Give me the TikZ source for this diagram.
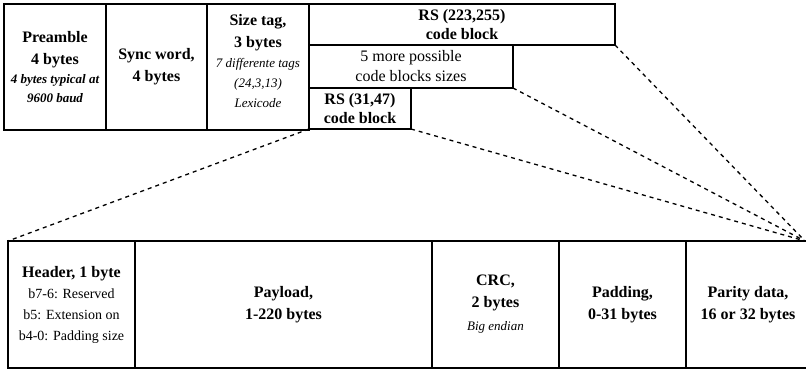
\documentclass[tikz,border=0pt]{standalone}
\usepackage{fontspec}
\setmainfont{Liberation Serif}
\newcommand\boldtext{\fontsize{16}{22}\selectfont\bfseries}
\newcommand\plaintext{\fontsize{16}{20}\selectfont\mdseries\upshape}
\newcommand\smalltext{\fontsize{14}{20}\selectfont\mdseries\upshape}
\newcommand\noteit{\fontsize{13}{19}\selectfont\mdseries\itshape}
\newcommand\notebi{\fontsize{13}{19}\selectfont\bfseries\itshape}
\tikzset{
  field/.style={draw, line width=1.4pt, anchor=north west, inner sep=0pt,
    outer sep=0pt, align=center, font=\boldtext},
  plainfield/.style={field, font=\plaintext},
  zoomline/.style={line width=1.3pt, dash pattern=on 4pt off 4pt}
}
\begin{document}
\begin{tikzpicture}[x=1pt, y=-1pt]
\clip (0,0) rectangle (806,370);
\useasboundingbox (0,0) rectangle (806,370);

% frame layout
\node[field, minimum width=102pt, minimum height=126pt] (pre) at (4,4)
  {Preamble\\4 bytes\\[-3pt]{\notebi 4 bytes typical at}\\[-3pt]{\notebi 9600 baud}};
\node[field, minimum width=101pt, minimum height=126pt] (sync) at (106,4)
  {Sync word,\\4 bytes};
\node[field, minimum width=102pt, minimum height=126pt] (size) at (207,4) {};
\node[align=center, font=\boldtext, inner sep=0pt] (sizetxt) at ([yshift=6pt]size.center)
  {Size tag,\\3 bytes\\[-2pt]{\noteit 7 differente tags}\\[-2pt]{\noteit (24,3,13)}\\[-2pt]{\noteit Lexicode}};

% alternative code block sizes
\node[field, minimum width=306pt, minimum height=41pt] (rsbig) at (309,4)
  {RS (223,255)\\[-3pt]code block};
\node[plainfield, minimum width=204pt, minimum height=43pt] (more) at (309,45)
  {5 more possible\\code blocks sizes};
\node[field, minimum width=102pt, minimum height=41pt] (rssmall) at (309,88)
  {RS (31,47)\\[-3pt]code block};

% code block layout
\node[field, minimum width=127pt, minimum height=127pt] (hdr) at (8,241)
  {Header, 1 byte\\[-1pt]{\smalltext b7-6: Reserved}\\[-1pt]{\smalltext b5: Extension on}\\[-1pt]{\smalltext b4-0: Padding size}};
\node[field, minimum width=297pt, minimum height=127pt] (pay) at (135,241)
  {Payload,\\1-220 bytes};
\node[field, minimum width=127pt, minimum height=127pt] (crc) at (432,241)
  {CRC,\\2 bytes\\[1pt]{\noteit Big endian}};
\node[field, minimum width=127pt, minimum height=127pt] (pad) at (559,241)
  {Padding,\\0-31 bytes};
\node[field, minimum width=124pt, minimum height=127pt] (par) at (686,241)
  {Parity data,\\16 or 32 bytes};
\coordinate (fan) at (805,241);

% expansion lines
\draw[zoomline] (rssmall.south west) -- (hdr.north west);
\draw[zoomline] (rssmall.south east) -- (fan);
\draw[zoomline] (more.south east) -- (fan);
\draw[zoomline] (rsbig.south east) -- (fan);
\end{tikzpicture}
\end{document}
